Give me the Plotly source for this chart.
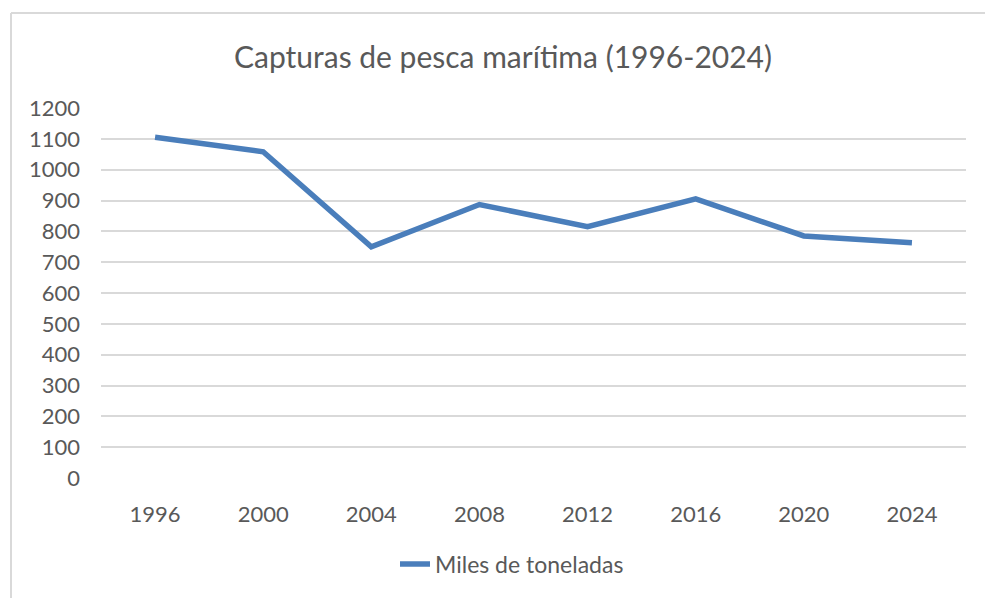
import plotly.graph_objects as go

years = ["1996", "2000", "2004", "2008", "2012", "2016", "2020", "2024"]
capturas = [1105, 1058, 750, 887, 815, 905, 785, 763]
y_ticks = [0, 100, 200, 300, 400, 500, 600, 700, 800, 900, 1000, 1100, 1200]

W, H = 985, 598
L, R, T, B = 101, 19, 108, 120
pw, ph = W - L - R, H - T - B

def px(x):
    return (x - L) / pw

def py(y):
    return (H - B - y) / ph

font = "Lato, 'Open Sans', sans-serif"
grey = "#595959"

fig = go.Figure()
fig.add_trace(go.Scatter(
    x=years, y=capturas, mode="lines", name="Miles de toneladas",
    line=dict(color="#4a7ebb", width=5.5),
))

fig.update_layout(
    width=W, height=H,
    margin=dict(l=L, r=R, t=T, b=B, autoexpand=False),
    paper_bgcolor="white", plot_bgcolor="white",
    font=dict(family=font, color=grey, size=22),
    title=dict(text="Capturas de pesca marítima (1996-2024)",
               x=503 / W, xanchor="center", xref="container",
               y=1 - 57 / H, yanchor="middle",
               font=dict(size=30, color=grey, family=font)),
    showlegend=True,
    legend=dict(orientation="h", x=512 / W, xref="container", xanchor="center",
                y=1 - 564 / H, yref="container", yanchor="middle",
                font=dict(size=23, color=grey, family=font)),
    xaxis=dict(type="category", range=[-0.5, 7.5], showgrid=False,
               showline=False, zeroline=False, ticks="",
               tickfont=dict(size=22, color=grey), ticklabelstandoff=21),
    yaxis=dict(range=[0, 1200], tickvals=y_ticks, showgrid=True,
               gridcolor="#d9d9d9", gridwidth=1.5, zeroline=False,
               showline=False, ticks="", tickfont=dict(size=22, color=grey),
               ticklabelstandoff=20),
    shapes=[
        dict(type="line", xref="paper", yref="paper",
             x0=px(11), x1=px(W + 5), y0=py(13), y1=py(13),
             line=dict(color="#d9d9d9", width=2)),
        dict(type="line", xref="paper", yref="paper",
             x0=px(11), x1=px(11), y0=py(13), y1=py(H + 5),
             line=dict(color="#d9d9d9", width=2)),
    ],
)

fig.write_html("out.html", config={"displayModeBar": False},
               post_script="document.body.style.margin='0px';document.body.style.overflow='hidden';")
